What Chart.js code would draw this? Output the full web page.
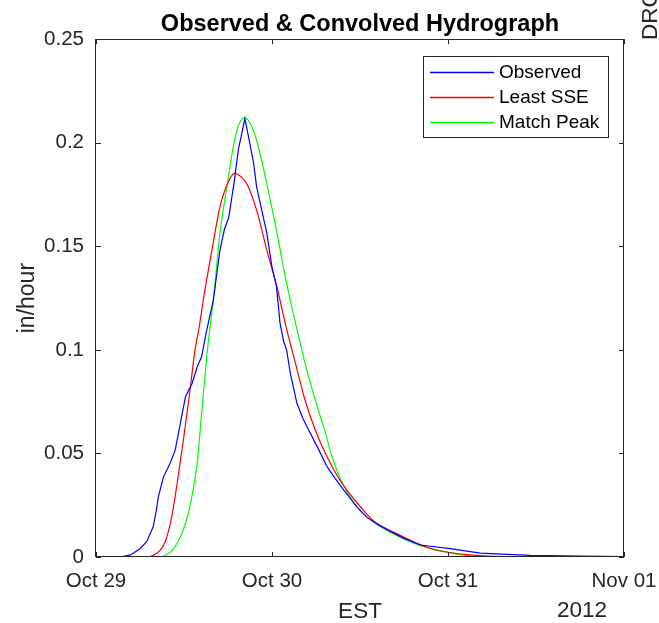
<!DOCTYPE html>
<html>
<head>
<meta charset="utf-8">
<script src="https://cdn.jsdelivr.net/npm/chart.js@4"></script>
<style>
  html, body { margin: 0; padding: 0; background: #fff; }
</style>
</head>
<body>
<canvas id="myChart" width="659" height="623"></canvas>
<script>
// hours after Oct 29 00:00 EST
const observedHours = [0, 3.3, 4.7, 6.0, 6.9, 7.8, 8.2, 8.5, 9.2, 10.1, 10.8, 11.5, 12.2, 13.1, 13.8, 14.4, 15.1, 16.0, 16.9, 17.5, 18.1, 18.8, 19.4, 20.3, 20.8, 21.5, 21.9, 22.6, 23.3, 24.0, 24.6, 25.1, 25.6, 26.0, 26.5, 27.4, 28.2, 29.0, 30.4, 31.5, 32.6, 33.8, 35.6, 37.0, 38.5, 40.1, 42.0, 44.2, 48.3, 52.4, 59.2, 66.0, 72.0];
const observedValues = [0, 0, 0.001, 0.004, 0.0074, 0.0146, 0.022, 0.029, 0.0387, 0.0452, 0.0516, 0.0645, 0.0774, 0.0838, 0.0918, 0.0967, 0.1096, 0.124, 0.148, 0.158, 0.164, 0.180, 0.1964, 0.2117, 0.2028, 0.19, 0.1787, 0.1675, 0.1562, 0.140, 0.131, 0.1128, 0.1039, 0.0999, 0.0887, 0.0742, 0.067, 0.0613, 0.0516, 0.0436, 0.038, 0.0323, 0.0241, 0.019, 0.0155, 0.0125, 0.009, 0.0058, 0.004, 0.0019, 0.0008, 0.0004, 0.0002];

const leastSseHours = [0, 7.0, 7.8, 8.8, 9.5, 10.3, 11.0, 11.9, 12.8, 13.5, 14.0, 14.7, 15.8, 16.9, 17.9, 18.9, 19.8, 20.6, 21.9, 23.3, 24.7, 25.8, 27.2, 28.5, 29.9, 31.5, 33.1, 34.5, 36.0, 38.0, 41.0, 45.6, 50.1, 54.7, 60, 72];
const leastSseValues = [0, 0, 0.0008, 0.0034, 0.008, 0.019, 0.034, 0.056, 0.080, 0.0999, 0.1096, 0.1256, 0.148, 0.169, 0.180, 0.1852, 0.1835, 0.180, 0.1675, 0.148, 0.130, 0.1128, 0.0935, 0.0758, 0.0613, 0.0484, 0.038, 0.031, 0.0245, 0.017, 0.0113, 0.0041, 0.0013, 0.0003, 0, 0];

const matchPeakHours = [0, 8.5, 9.5, 10.6, 11.9, 12.9, 13.8, 14.4, 15.1, 15.5, 16.0, 16.9, 17.9, 18.8, 19.5, 20.3, 21.0, 21.9, 23.3, 24.7, 26.0, 27.2, 28.5, 29.9, 31.3, 32.2, 33.3, 35.6, 38.0, 40.1, 44.2, 50, 55, 72];
const matchPeakValues = [0, 0, 0.0008, 0.004, 0.013, 0.026, 0.0452, 0.0694, 0.0967, 0.1096, 0.124, 0.1562, 0.180, 0.1996, 0.209, 0.212, 0.2095, 0.2012, 0.180, 0.156, 0.132, 0.113, 0.0935, 0.0758, 0.0597, 0.0484, 0.038, 0.0241, 0.0165, 0.012, 0.0056, 0.001, 0, 0];

const xTickHours = [0, 24, 48, 72];
const xTickLabels = ["Oct 29", "Oct 30", "Oct 31", "Nov 01"];
const yTicks = [0, 0.05, 0.1, 0.15, 0.2, 0.25];

const seriesNames = ["Observed", "Least SSE", "Match Peak"];
const seriesColors = ["#0000ff", "#ff0000", "#00ff00"];

const axisColor = "#262626";
Chart.defaults.font.family = "'Liberation Sans', Arial, sans-serif";
Chart.defaults.color = axisColor;

function toPoints(hours, values) {
  return hours.map((h, i) => ({ x: h, y: values[i] }));
}

// MATLAB style box with inward ticks, legend box, year label
const matlabFrame = {
  id: "matlabFrame",
  afterDraw(chart) {
    const ctx = chart.ctx;
    const a = chart.chartArea;
    const xs = chart.scales.x;
    const ys = chart.scales.y;
    ctx.save();
    ctx.strokeStyle = axisColor;
    ctx.lineWidth = 1;
    ctx.strokeRect(Math.round(a.left) - 0.5, Math.round(a.top) + 0.5, Math.round(a.right - a.left), Math.round(a.bottom - a.top) - 1);
    ctx.beginPath();
    xTickHours.forEach((h) => {
      const px = Math.round(xs.getPixelForValue(h)) + 0.5;
      ctx.moveTo(px, a.bottom); ctx.lineTo(px, a.bottom - 5);
      ctx.moveTo(px, a.top); ctx.lineTo(px, a.top + 5);
    });
    yTicks.forEach((v) => {
      const py = Math.round(ys.getPixelForValue(v)) + 0.5;
      ctx.moveTo(a.left, py); ctx.lineTo(a.left + 5, py);
      ctx.moveTo(a.right, py); ctx.lineTo(a.right - 5, py);
    });
    ctx.stroke();

    // legend
    const lx = 423, ly = 56, lw = 185, lh = 81;
    ctx.fillStyle = "#fff";
    ctx.fillRect(lx, ly, lw, lh);
    ctx.strokeStyle = axisColor;
    ctx.strokeRect(lx + 0.5, ly + 0.5, lw, lh);
    ctx.font = "19px 'Liberation Sans', Arial, sans-serif";
    ctx.textBaseline = "middle";
    ctx.textAlign = "left";
    for (let i = 0; i < seriesNames.length; i++) {
      const rowY = ly + 16 + i * 25;
      ctx.strokeStyle = seriesColors[i];
      ctx.lineWidth = 1.3;
      ctx.beginPath();
      ctx.moveTo(430, rowY + 0.5);
      ctx.lineTo(494, rowY + 0.5);
      ctx.stroke();
      ctx.fillStyle = "#000";
      ctx.fillText(seriesNames[i], 499, rowY + 1);
    }

    ctx.font = "22.5px 'Liberation Sans', Arial, sans-serif";
    ctx.fillStyle = axisColor;
    ctx.textAlign = "right";
    ctx.fillText("2012", 607, 611);

    // clipped label of the neighbouring panel
    ctx.translate(651, 40);
    ctx.rotate(-Math.PI / 2);
    ctx.textAlign = "left";
    ctx.fillText("DRO", 0, 0);
    ctx.restore();
  }
};

const ctx = document.getElementById("myChart");

new Chart(ctx, {
  type: "line",
  data: {
    datasets: [
      {
        label: seriesNames[0],
        data: toPoints(observedHours, observedValues),
        borderColor: seriesColors[0],
        borderWidth: 1.2,
        pointRadius: 0,
        tension: 0,
      },
      {
        label: seriesNames[1],
        data: toPoints(leastSseHours, leastSseValues),
        borderColor: seriesColors[1],
        borderWidth: 1.2,
        pointRadius: 0,
        cubicInterpolationMode: "monotone",
      },
      {
        label: seriesNames[2],
        data: toPoints(matchPeakHours, matchPeakValues),
        borderColor: seriesColors[2],
        borderWidth: 1.2,
        pointRadius: 0,
        cubicInterpolationMode: "monotone",
      },
    ],
  },
  options: {
    responsive: false,
    animation: false,
    layout: {
      padding: { left: 0, right: 35, top: 0, bottom: 0 },
    },
    scales: {
      x: {
        type: "linear",
        min: 0,
        max: 72,
        afterBuildTicks: (scale) => {
          scale.ticks = xTickHours.map((h) => ({ value: h }));
        },
        afterFit: (scale) => {
          scale.height = 66;
          scale.paddingLeft = 0;
          scale.paddingRight = 0;
        },
        ticks: {
          font: { size: 20.5 },
          color: axisColor,
          padding: 12,
          maxRotation: 0,
          autoSkip: false,
          callback: (value) => xTickLabels[xTickHours.indexOf(value)],
        },
        grid: { display: false, drawTicks: false },
        border: { display: false },
        title: {
          display: true,
          text: "EST",
          font: { size: 22.5, lineHeight: 1 },
          color: axisColor,
          padding: { top: 0, bottom: 0 },
        },
      },
      y: {
        min: 0,
        max: 0.25,
        afterBuildTicks: (scale) => {
          scale.ticks = yTicks.map((v) => ({ value: v }));
        },
        afterFit: (scale) => {
          scale.width = 96;
          scale.paddingTop = 0;
          scale.paddingBottom = 0;
        },
        ticks: {
          font: { size: 20.5 },
          color: axisColor,
          padding: 12,
          callback: (value) => String(+value.toFixed(2)),
        },
        grid: { display: false, drawTicks: false },
        border: { display: false },
        title: {
          display: true,
          text: "in/hour",
          font: { size: 23, lineHeight: 1 },
          color: axisColor,
          padding: { top: 16, bottom: 0 },
        },
      },
    },
    plugins: {
      legend: { display: false },
      tooltip: { enabled: false },
      title: {
        display: true,
        fullSize: false,
        text: "Observed & Convolved Hydrograph",
        color: "#000",
        font: { size: 23.5, weight: "bold" },
        padding: { top: 10, bottom: 1 },
      },
    },
  },
  plugins: [matlabFrame],
});
</script>
</body>
</html>
